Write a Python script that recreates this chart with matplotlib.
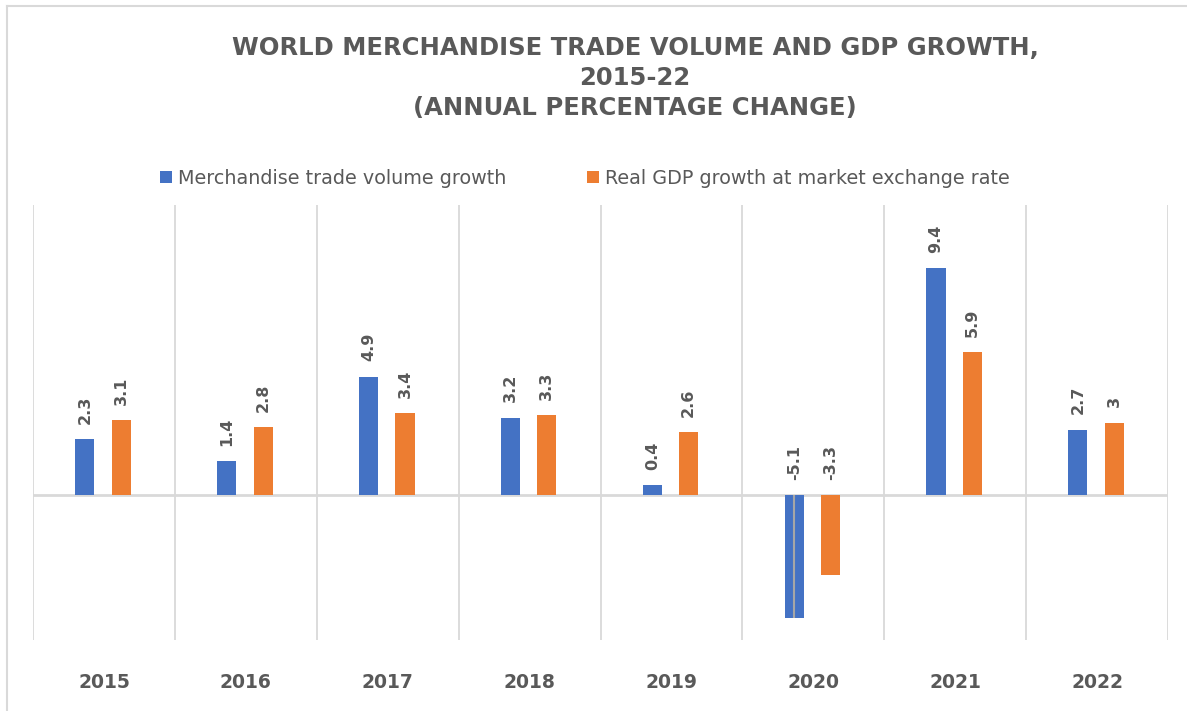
import matplotlib
matplotlib.use("Agg")
import matplotlib.pyplot as plt
import numpy as np

years = ["2015", "2016", "2017", "2018", "2019", "2020", "2021", "2022"]
trade_growth = [2.3, 1.4, 4.9, 3.2, 0.4, -5.1, 9.4, 2.7]
gdp_growth = [3.1, 2.8, 3.4, 3.3, 2.6, -3.3, 5.9, 3.0]
trade_labels = ["2.3", "1.4", "4.9", "3.2", "0.4", "-5.1", "9.4", "2.7"]
gdp_labels = ["3.1", "2.8", "3.4", "3.3", "2.6", "-3.3", "5.9", "3"]
series_names = ["Merchandise trade volume growth", "Real GDP growth at market exchange rate"]
title = "WORLD MERCHANDISE TRADE VOLUME AND GDP GROWTH,\n2015-22\n(ANNUAL PERCENTAGE CHANGE)"

BLUE = "#4472C4"
ORANGE = "#ED7D31"
GRAY = "#595959"
GRID = "#D9D9D9"

fig = plt.figure(figsize=(11.87, 7.11), dpi=100)
fig.patch.set_facecolor("white")

ax = fig.add_axes([33/1187, 1 - 640/711, (1168-33)/1187, (640-205)/711])
x = np.arange(len(years))
w = 0.135
b1 = ax.bar(x - 0.135, trade_growth, width=w, color=BLUE, label=series_names[0], zorder=3)
b2 = ax.bar(x + 0.122, gdp_growth, width=w, color=ORANGE, label=series_names[1], zorder=3)

# thin line through the negative 2020 trade bar
i20 = years.index("2020")
ax.vlines(x[i20] - 0.135, trade_growth[i20], 0, color="#A6A6A6", lw=1.5, zorder=4)

ax.set_xlim(-0.5, len(years) - 0.5)
ax.set_ylim(-6, 12)
ax.axhline(0, color=GRID, lw=2, zorder=2)
for b in np.arange(-0.5, len(years), 1.0):
    ax.axvline(b, color=GRID, lw=1.3, zorder=1)

for s in ax.spines.values():
    s.set_visible(False)
ax.set_yticks([])
ax.set_xticks(x)
ax.set_xticklabels(years, fontsize=13.5, fontweight="bold", color=GRAY)
ax.tick_params(axis="x", length=0, pad=24)

for xs, vals, labs in ((x - 0.135, trade_growth, trade_labels), (x + 0.122, gdp_growth, gdp_labels)):
    for xi, v, lab in zip(xs, vals, labs):
        ax.annotate(lab, (xi, max(v, 0)), xytext=(0, 11), textcoords="offset points",
                    rotation=90, ha="center", va="bottom", fontsize=11.5,
                    fontweight="bold", color=GRAY, zorder=5)

fig.text(0.535, 0.949, title, ha="center", va="top", fontsize=17.5, fontweight="bold",
         color=GRAY, linespacing=1.32)

leg = fig.legend(handles=[b1, b2], labels=series_names, loc="center", ncol=2,
                 bbox_to_anchor=(0.493, 1 - 178/711), frameon=False, fontsize=13.8,
                 handlelength=0.6, handleheight=0.6, handletextpad=0.35, columnspacing=4.2)
for t in leg.get_texts():
    t.set_color(GRAY)

# screenshot frame lines (left and top)
fig.add_artist(plt.Line2D([7/1187, 7/1187], [0, 1 - 6/711], transform=fig.transFigure, color="#D9D9D9", lw=1.5))
fig.add_artist(plt.Line2D([7/1187, 1], [1 - 6/711, 1 - 6/711], transform=fig.transFigure, color="#D9D9D9", lw=1.5))

fig.savefig("out.png", dpi=100, facecolor="white")
